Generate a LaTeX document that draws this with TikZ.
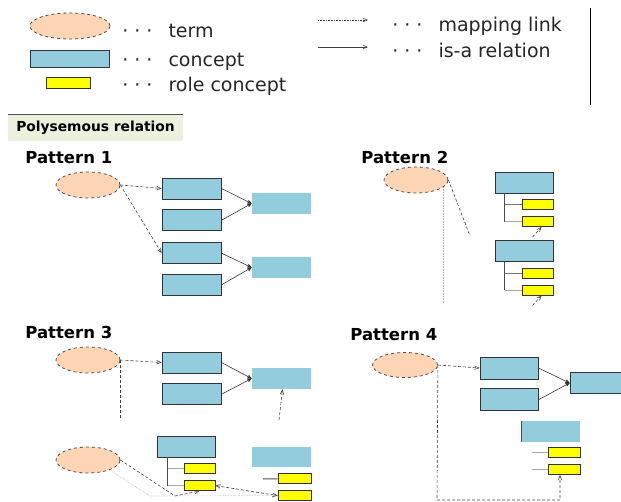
\documentclass[tikz,border=0pt]{standalone}
\usepackage{fontspec}
\setmainfont{DejaVu Sans}
\usepackage{tikz}
\usetikzlibrary{positioning, calc, shapes.geometric}
\usetikzlibrary{arrows}

\newcommand{\legdots}{·\hspace{6pt}·\hspace{6pt}·\hspace{16pt}}

\begin{document}
\begin{tikzpicture}[x=1pt, y=-1pt, node distance=10pt, font=\fontsize{19}{22}\selectfont, >=stealth', line width=0.8pt,
    term/.style={ellipse, draw=black!70, dashed, fill=termpeach, minimum width=64pt, minimum height=26pt, inner sep=0pt},
    concept/.style={rectangle, draw=black!80, fill=conceptblue, minimum width=59pt, minimum height=21pt, inner sep=0pt},
    bareconcept/.style={concept, draw=none},
    role/.style={rectangle, draw=black!80, fill=roleyellow, minimum width=31pt, minimum height=10pt, inner sep=0pt},
    mapping/.style={->, >=angle 45, densely dashed, line width=0.6pt, draw=black!75},
    faintmapping/.style={mapping, densely dotted, draw=black!30},
    isa/.style={->, line width=0.6pt, draw=black!80},
    stem/.style={line width=1pt, draw=black!70},
    branch/.style={line width=0.8pt, draw=black!35},
    legend/.style={anchor=base west, inner sep=0pt, text=black!85},
    pattern/.style={anchor=base west, inner sep=0pt, font=\fontsize{16.5}{18}\selectfont\bfseries}]
        % Define colors
        \definecolor{termpeach}{RGB}{252,213,181}
        \definecolor{conceptblue}{RGB}{147,205,221}
        \definecolor{roleyellow}{RGB}{255,255,0}
        \definecolor{boxgreen}{RGB}{236,240,222}

        \path[use as bounding box, clip] (0,0) rectangle (621,502);

        % Legend
        \node[term, minimum width=80pt] (lterm) at (70,26) {};
        \node[concept, minimum width=79pt, minimum height=17pt] (lconcept) at (70,58.5) {};
        \node[role, minimum width=44pt, minimum height=11pt] (lrole) at (68,82.5) {};
        \node[legend] (ltermtxt) at (122,38) {\legdots term};
        \node[legend] (lconcepttxt) at (122,67) {\legdots concept};
        \node[legend] (lroletxt) at (122,92) {\legdots role concept};
        \coordinate (lmapA) at (318,20);
        \coordinate (lmapB) at (368,20);
        \coordinate (lisaA) at (318,47);
        \coordinate (lisaB) at (368,47);
        \node[legend] (lmaptxt) at (392,32) {\legdots mapping link};
        \node[legend] (lisatxt) at (392,58) {\legdots is-a relation};
        \coordinate (lruleA) at (590,8);
        \coordinate (lruleB) at (590,105);
        \draw[mapping, densely dotted] (lmapA) -- (lmapB);
        \draw[mapping, solid] (lisaA) -- (lisaB);
        \draw[line width=1pt] (lruleA) -- (lruleB);

        \node[fill=boxgreen, minimum width=175pt, minimum height=26pt, inner sep=0pt, font=\fontsize{13.8}{15}\selectfont\bfseries] (poly) at (95.5,128) {Polysemous relation};
        \draw[black!70] (poly.north west) -- (poly.north east);

        % Pattern 1
        \node[pattern] (p1lbl) at (25,164) {Pattern 1};
        \node[term] (p1t) at (88,185) {};
        \node[concept] (p1a) at (191.5,188.5) {};
        \node[concept, below=of p1a] (p1b) {};
        \node[concept, below=11pt of p1b] (p1c) {};
        \node[concept, below=of p1c] (p1d) {};
        \node[bareconcept] (p1e) at (281.5,203.5) {};
        \node[bareconcept] (p1f) at (281.5,267.5) {};
        \foreach \c in {a,c} {
            \draw[mapping] (p1t.east) -- (p1\c.west);
        }
        \foreach \c in {a,b} {
            \draw[isa] (p1\c.east) -- (p1e.west);
        }
        \foreach \c in {c,d} {
            \draw[isa] (p1\c.east) -- (p1f.west);
        }

        % Pattern 2
        \node[pattern] (p2lbl) at (361,164) {Pattern 2};
        \node[term] (p2t) at (416,180) {};
        \foreach \g/\cy in {1/182.5, 2/251} {
            \node[concept, minimum width=58pt] (p2c\g) at (524,\cy) {};
            \node[role, below=6pt of p2c\g.south east, anchor=north east] (p2r\g a) {};
            \node[role, below=6pt of p2r\g a] (p2r\g b) {};
            \coordinate (p2stem\g) at ([xshift=10pt]p2c\g.south west);
            \draw[stem] (p2stem\g) -- (p2stem\g |- p2r\g b.west);
            \draw[branch, draw=black!55] (p2r\g a.west) -- (p2r\g a.west -| p2stem\g);
            \draw[branch] (p2r\g b.west) -- (p2r\g b.west -| p2stem\g);
            \coordinate (p2tail\g) at ($(p2r\g b.south)+(-5,10)$);
            \draw[mapping] (p2tail\g) -- ([xshift=4pt]p2r\g b.south);
        }
        \coordinate (p2cut) at (470,236);
        \coordinate (p2drop) at (447,303);
        \draw[mapping, -] (p2t.east) -- (p2cut);
        \draw[faintmapping, -] (p2t.-15) -- (p2t.-15 |- p2drop);

        % Pattern 3
        \node[pattern] (p3lbl) at (25,339) {Pattern 3};
        \node[term] (p3t) at (88,360) {};
        \node[concept] (p3a) at (191.5,362.5) {};
        \node[concept, below=of p3a] (p3b) {};
        \node[bareconcept] (p3c) at (281.5,378.5) {};
        \draw[mapping] (p3t.east) -- (p3a.west);
        \foreach \c in {a,b} {
            \draw[isa] (p3\c.east) -- (p3c.west);
        }
        \coordinate (p3cut) at (119,420);
        \coordinate (p3up) at (279,420);
        \draw[mapping, -] (p3t.east) -- (p3t.east |- p3cut);
        \draw[mapping] (p3up) -- ([xshift=1pt]p3c.south);

        \node[term] (p3s) at (88,460) {};
        \node[concept, minimum width=58pt] (p3d) at (186,446.5) {};
        \node[role, below=6pt of p3d.south east, anchor=north east] (p3r1) {};
        \node[role, below=6pt of p3r1] (p3r2) {};
        \coordinate (p3stem) at ([xshift=11pt]p3d.south west);
        \draw[stem] (p3stem) -- (p3stem |- p3r2.west);
        \foreach \r in {1,2} {
            \draw[branch] (p3r\r.west) -- (p3r\r.west -| p3stem);
        }
        \node[bareconcept, minimum height=20pt] (p3e) at (281.5,457) {};
        \node[role, minimum width=33pt, below=6pt of p3e.south east, anchor=north east] (p3r3) {};
        \node[role, minimum width=33pt, below=6pt of p3r3] (p3r4) {};
        \coordinate (p3twig) at (263,479);
        \draw[stem] (p3twig) -- (p3r3.west);
        \coordinate (p3bendA) at (175,496);
        \coordinate (p3bendB) at (150,496);
        \draw[mapping] (p3s.east) -- (p3bendA) -- (p3r2.south);
        \draw[faintmapping] (p3s.-25) -- (p3bendB) -- (p3r4.west);
        \draw[mapping, <->] (p3r2.east) -- (p3r4.west);

        % Pattern 4
        \node[pattern] (p4lbl) at (350,341) {Pattern 4};
        \node[term, minimum width=65pt, minimum height=25pt] (p4t) at (405,365) {};
        \node[concept, minimum width=58pt, minimum height=22pt] (p4a) at (509,368) {};
        \node[concept, minimum width=58pt, minimum height=22pt, below=9pt of p4a] (p4b) {};
        \node[concept] (p4c) at (599.5,383) {};
        \draw[mapping] (p4t.east) -- (p4a.west);
        \foreach \c in {a,b} {
            \draw[isa] (p4\c.east) -- (p4c.west);
        }
        \node[bareconcept, minimum width=58pt] (p4d) at (551,431.5) {};
        \draw[stem] (p4d.north west) -- (p4d.south west);
        \node[role, minimum width=32pt, below=5pt of p4d.south east, anchor=north east] (p4r1) {};
        \node[role, minimum width=32pt, below=6pt of p4r1] (p4r2) {};
        \foreach \r in {1,2} {
            \draw[branch] (p4r\r.west) -- ++(-16,0);
        }
        \coordinate (p4turn) at (437,500);
        \draw[mapping] (p4t.east) -- (p4turn) -| ([xshift=-4pt]p4r2.south);
    \end{tikzpicture}
\end{document}
